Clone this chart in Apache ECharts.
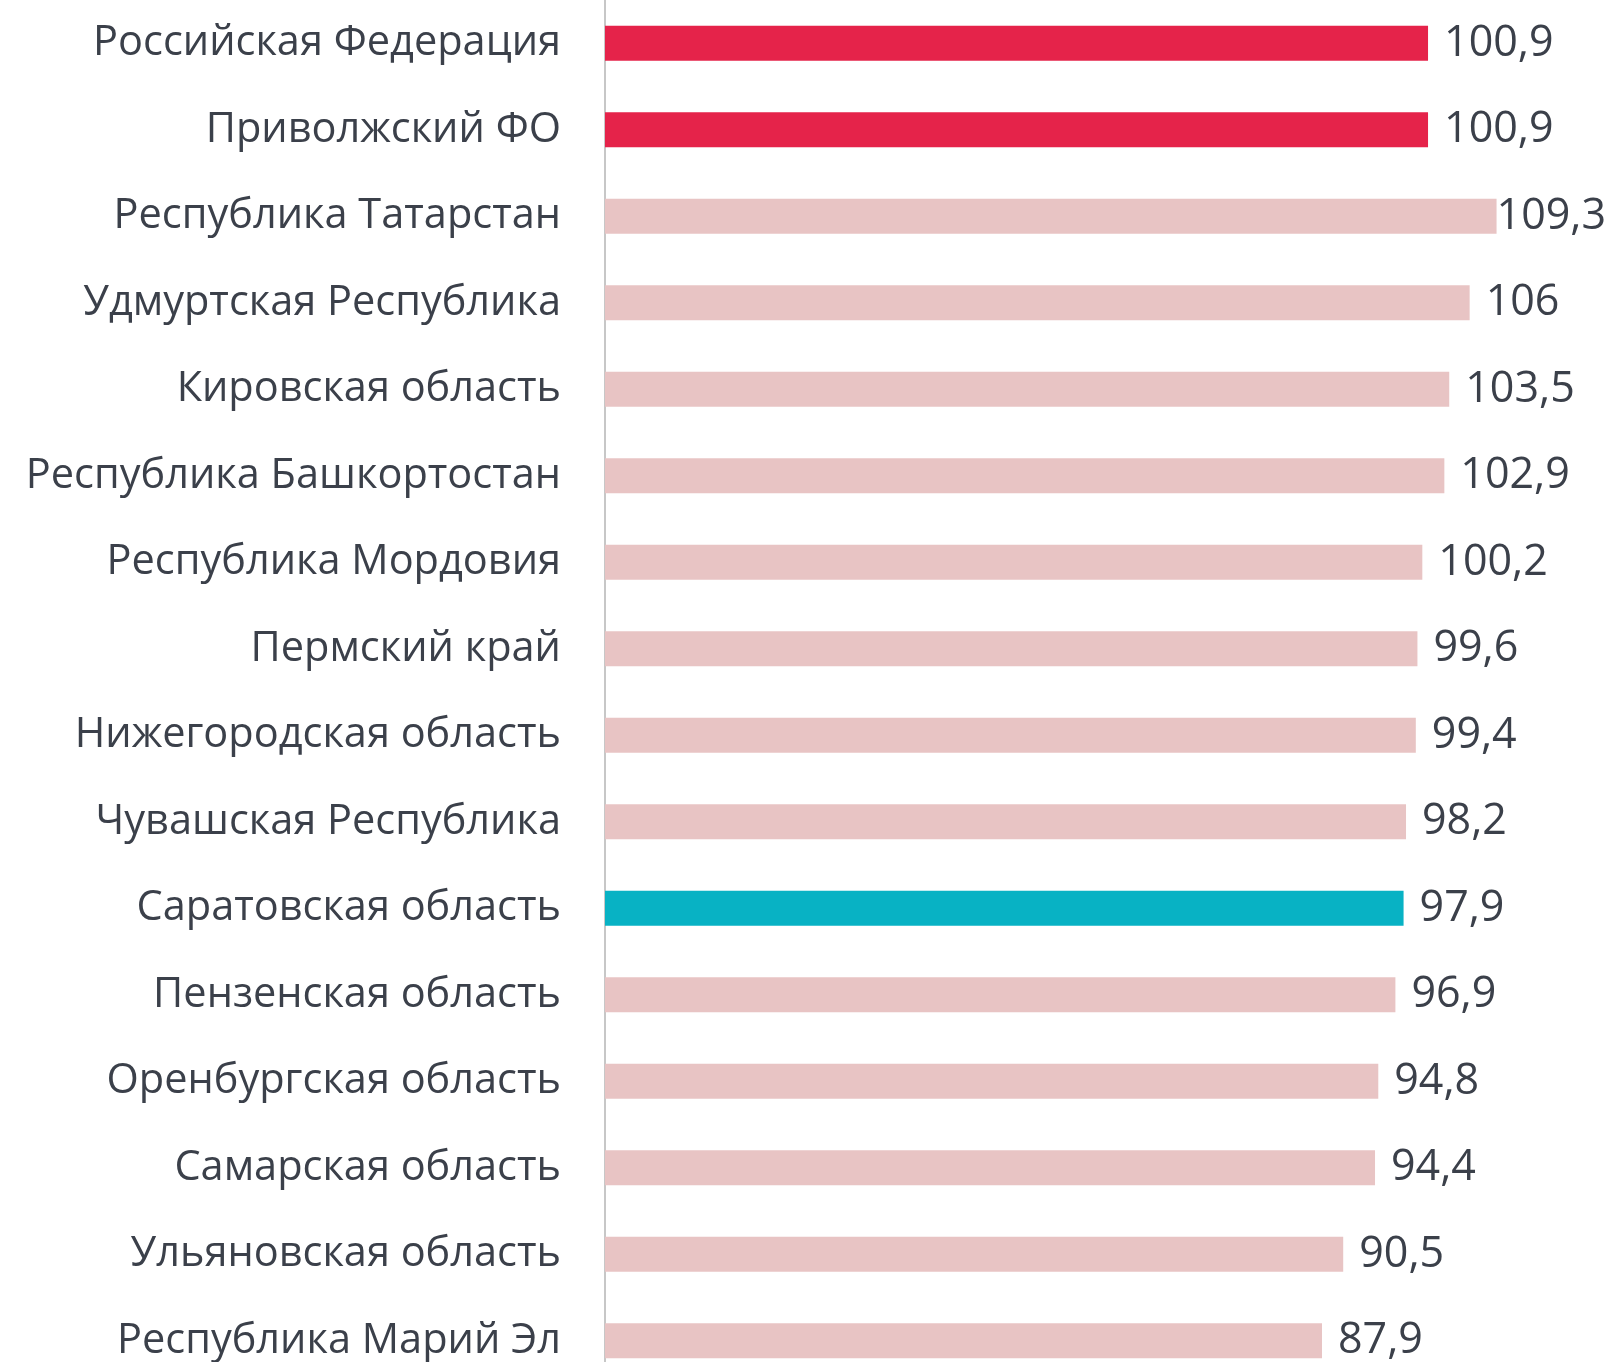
<!DOCTYPE html>
<html><head><meta charset="utf-8">
<script src="https://cdn.jsdelivr.net/npm/echarts@6/dist/echarts.min.js"></script>
<style>html,body{margin:0;padding:0;background:#fff;overflow:hidden}#c{width:1613px;height:1400px}</style>
</head><body><div id="c"></div>
<script>
const categories = ["Российская Федерация","Приволжский ФО","Республика Татарстан","Удмуртская Республика","Кировская область","Республика Башкортостан","Республика Мордовия","Пермский край","Нижегородская область","Чувашская Республика","Саратовская область","Пензенская область","Оренбургская область","Самарская область","Ульяновская область","Республика Марий Эл"];
const values = [100.9,100.9,109.3,106,103.5,102.9,100.2,99.6,99.4,98.2,97.9,96.9,94.8,94.4,90.5,87.9];
const colorGroups = ["red","red","pink","pink","pink","pink","pink","pink","pink","pink","teal","pink","pink","pink","pink","pink"];
const palette = {red:"#e5234a", pink:"#e8c4c4", teal:"#08b2c4"};

const chart = echarts.init(document.getElementById('c'), null, {renderer:'canvas'});
const FONT = '"Open Sans", sans-serif';
chart.setOption({
  animation:false,
  grid:{left:605, top:-1.6, width:8.157*120, height:16*86.6, containLabel:false},
  xAxis:{type:'value', min:0, max:120, show:false},
  yAxis:{type:'category', data:categories, inverse:true,
    axisLine:{show:true, lineStyle:{color:'#b4b4b4', width:1.5}},
    axisTick:{show:false},
    axisLabel:{margin:44, fontSize:41.5, color:'#3b404a', fontFamily:FONT, padding:[7,0,0,0]}},
  series:[{type:'bar', barWidth:35,
    data: values.map((v,i)=>({value:v, itemStyle:{color:palette[colorGroups[i]]},
      label: v===Math.max(...values) ? {distance:0} : undefined})),
    label:{show:true, position:'right', distance:16, fontSize:43, color:'#3b404a', fontFamily:FONT,
      padding:[7,0,0,0],
      formatter:p=>String(p.value).replace('.',',')}}]
});
</script></body></html>
